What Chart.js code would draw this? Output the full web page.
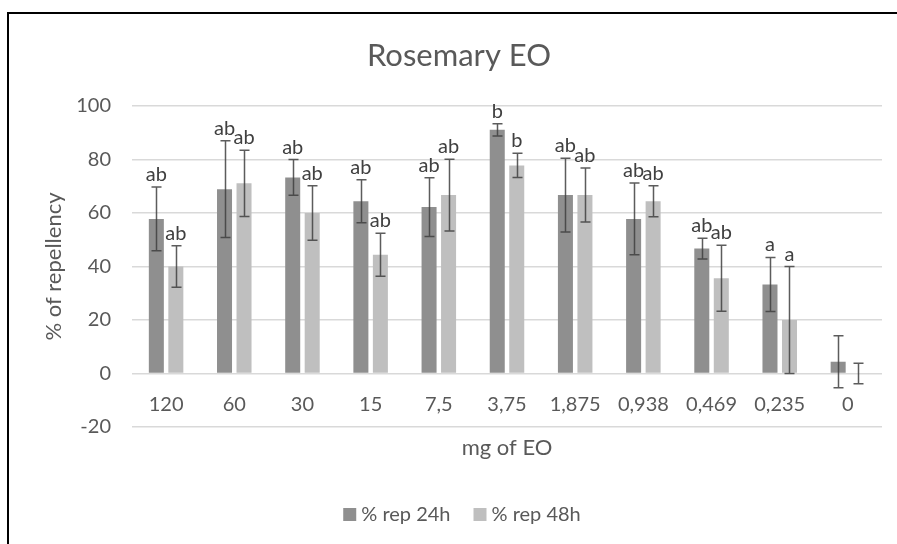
<!DOCTYPE html>
<html>
<head>
<meta charset="utf-8">
<script src="https://cdn.jsdelivr.net/npm/chart.js@4.4.1/dist/chart.umd.min.js"></script>
<style>
  html, body { margin: 0; padding: 0; background: #fff; }
  canvas { display: block; }
</style>
</head>
<body>
<canvas id="chart" width="897" height="544"></canvas>
<script>
/* Data */
const doses = ["120", "60", "30", "15", "7,5", "3,75", "1,875", "0,938", "0,469", "0,235", "0"];
const rep24 = [57.8, 68.9, 73.3, 64.4, 62.2, 91.1, 66.7, 57.8, 46.7, 33.3, 4.4];
const sd24 = [11.9, 18.1, 6.7, 8.0, 11.0, 2.3, 13.8, 13.4, 3.9, 10.1, 9.7];
const rep48 = [40.0, 71.1, 60.0, 44.4, 66.7, 77.8, 66.7, 64.4, 35.6, 20.0, 0];
const sd48 = [7.8, 12.4, 10.2, 8.0, 13.4, 4.5, 10.1, 5.8, 12.3, 20.0, 3.8];
const letters24 = ["ab", "ab", "ab", "ab", "ab", "b", "ab", "ab", "ab", "a", ""];
const letters48 = ["ab", "ab", "ab", "ab", "ab", "b", "ab", "ab", "ab", "a", ""];
const yMin = -20;
const yMax = 100;
const yStep = 20;

const TEXT = "#595959";
const FONT = "Lato, Carlito, sans-serif";
const GRID = "#d9d9d9";

/* Title, frame, category labels, error bars, letters and legend */
const decorations = {
  id: "decorations",
  beforeDraw(chart) {
    const ctx = chart.ctx;
    ctx.save();
    ctx.fillStyle = "#000";
    ctx.fillRect(7, 12, chart.width, 2);
    ctx.fillRect(7, 12, 2, chart.height);

    ctx.fillStyle = TEXT;
    ctx.font = `31px ${FONT}`;
    ctx.textAlign = "center";
    ctx.textBaseline = "alphabetic";
    ctx.fillText("Rosemary EO", 459, 66);
    ctx.restore();
  },
  afterDatasetsDraw(chart) {
    const { ctx } = chart;
    const { x, y } = chart.scales;
    const zero = y.getPixelForValue(0);
    ctx.save();

    /* Category labels sit next to the zero line, like Excel */
    ctx.fillStyle = TEXT;
    ctx.font = `20px ${FONT}`;
    ctx.textAlign = "center";
    ctx.textBaseline = "alphabetic";
    doses.forEach((d, i) => {
      ctx.fillText(d, x.getPixelForValue(i), zero + 37);
    });

    chart.data.datasets.forEach((ds, di) => {
      const meta = chart.getDatasetMeta(di);
      meta.data.forEach((bar, i) => {
        const v = ds.data[i];
        const e = ds.errors[i];
        const top = y.getPixelForValue(v + e);
        const bottom = y.getPixelForValue(v - e);
        const bx = Math.round(bar.x) + 0.5;

        ctx.strokeStyle = "rgba(64,64,64,0.85)";
        ctx.lineWidth = 1.5;
        ctx.beginPath();
        ctx.moveTo(bx, top);
        ctx.lineTo(bx, bottom);
        ctx.moveTo(bx - 5, top);
        ctx.lineTo(bx + 5, top);
        ctx.moveTo(bx - 5, bottom);
        ctx.lineTo(bx + 5, bottom);
        ctx.stroke();

        if (ds.letters[i]) {
          ctx.fillStyle = "#404040";
          ctx.fillText(ds.letters[i], bar.x, top - 6);
        }
      });
    });
    ctx.restore();
  },
  afterDraw(chart) {
    const ctx = chart.ctx;
    ctx.save();
    ctx.font = `20px ${FONT}`;
    ctx.textBaseline = "alphabetic";
    ctx.textAlign = "left";
    const items = chart.data.datasets.map(ds => ({
      label: ds.label,
      color: ds.backgroundColor,
      w: 13 + 5 + ctx.measureText(ds.label).width
    }));
    const gap = 23;
    const total = items.reduce((s, it) => s + it.w, 0) + gap * (items.length - 1);
    let lx = 462 - total / 2;
    items.forEach(it => {
      ctx.fillStyle = it.color;
      ctx.fillRect(lx, 508, 13, 13);
      ctx.fillStyle = TEXT;
      ctx.fillText(it.label, lx + 18, 521);
      lx += it.w + gap;
    });
    ctx.restore();
  }
};

const ctx = document.getElementById("chart").getContext("2d");

new Chart(ctx, {
  type: "bar",
  data: {
    labels: doses,
    datasets: [
      {
        label: "% rep 24h",
        data: rep24,
        errors: sd24,
        letters: letters24,
        backgroundColor: "#8f8f8f",
        barPercentage: 0.77,
        categoryPercentage: 0.572
      },
      {
        label: "% rep 48h",
        data: rep48,
        errors: sd48,
        letters: letters48,
        backgroundColor: "#bfbfbf",
        barPercentage: 0.77,
        categoryPercentage: 0.572
      }
    ]
  },
  options: {
    responsive: false,
    animation: false,
    layout: {
      padding: { top: 106, right: 15, bottom: 83, left: 8 }
    },
    plugins: {
      legend: { display: false },
      title: { display: false },
      tooltip: { enabled: false }
    },
    scales: {
      x: {
        grid: { display: false },
        border: { display: false },
        ticks: { display: false },
        title: {
          display: true,
          text: "mg of EO",
          color: TEXT,
          font: { family: FONT, size: 22 },
          padding: { top: 0, bottom: 0 }
        },
        afterFit(scale) {
          scale.height = 34;
        }
      },
      y: {
        min: yMin,
        max: yMax,
        ticks: {
          stepSize: yStep,
          color: TEXT,
          font: { family: FONT, size: 20 },
          padding: 21
        },
        grid: { color: GRID, lineWidth: 1.5, drawTicks: false },
        border: { display: false },
        title: {
          display: true,
          text: "% of repellency",
          color: TEXT,
          font: { family: FONT, size: 22 },
          padding: { top: 33, bottom: 0 }
        },
        afterFit(scale) {
          scale.width = 124;
        }
      }
    }
  },
  plugins: [decorations]
});
</script>
</body>
</html>
